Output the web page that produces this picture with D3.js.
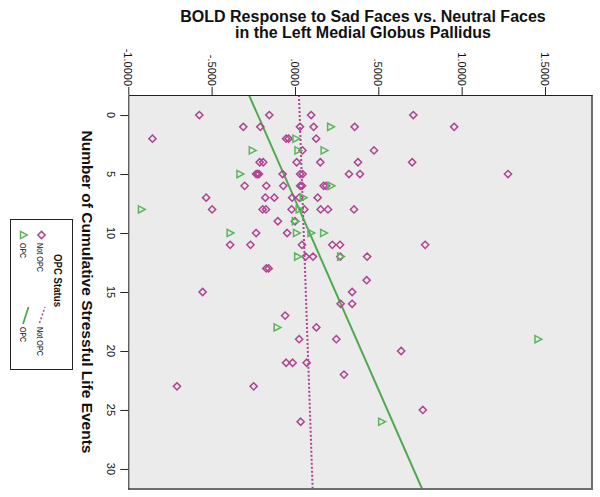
<!DOCTYPE html>
<html><head><meta charset="utf-8">
<script src="https://cdn.jsdelivr.net/npm/d3@7"></script>
<style>body{margin:0;background:#fff}text{font-family:"Liberation Sans",Arial,sans-serif}</style>
</head><body>
<svg id="c" width="600" height="497"></svg>
<script>
// Data: [stressful life events, BOLD response]
const notOPC = [
 [0,-0.574],[0,-0.154],[0,0.097],[0,0.710],
 [1,-0.310],[1,-0.208],[1,0.030],[1,0.112],[1,0.358],[1,0.955],
 [2,-0.855],[2,-0.053],[2,-0.038],[2,0.127],
 [3,0.045],[3,0.474],
 [4,-0.212],[4,-0.191],[4,0.010],[4,0.152],[4,0.378],[4,0.703],
 [5,-0.233],[5,-0.216],[5,-0.225],[5,-0.074],[5,0.031],[5,0.046],[5,0.324],[5,0.390],[5,1.278],
 [6,-0.302],[6,-0.172],[6,-0.070],[6,0.031],[6,0.042],[6,0.172],[6,0.187],
 [7,-0.533],[7,-0.178],[7,-0.124],[7,-0.017],[7,0.026],[7,0.136],
 [8,-0.497],[8,-0.194],[8,-0.174],[8,-0.020],[8,0.056],[8,0.154],[8,0.198],[8,0.354],
 [9,-0.103],[9,0.000],
 [10,-0.233],[10,-0.047],
 [11,-0.389],[11,-0.267],[11,0.042],[11,0.224],[11,0.270],[11,0.781],
 [12,0.064],[12,0.108],[12,0.272],[12,0.433],
 [13,-0.172],[13,-0.158],
 [14,0.430],
 [15,-0.554],[15,0.343],
 [16,0.274],[16,0.343],
 [17,-0.059],
 [18,0.128],
 [19,0.025],[19,0.248],
 [20,0.637],
 [21,-0.053],[21,-0.014],[21,0.070],
 [22,0.294],
 [23,-0.708],[23,-0.248],
 [25,0.767],
 [26,0.034]
];
const opc = [
 [1,0.214],[2,0.006],[3,-0.256],[3,0.018],[3,0.175],[5,-0.330],[6,0.217],[7,0.050],
 [8,-0.921],[8,0.025],[9,0.002],[10,-0.389],[10,0.009],[10,0.096],[10,0.172],
 [12,0.016],[12,0.274],[18,-0.107],[19,1.458],[26,0.520]
];
// Linear fit lines: BOLD = intercept + slope * events
const fitNotOPC = [0.028, 0.00246];
const fitOPC = [-0.223, 0.0311];
const boldTicks = [-1, -0.5, 0, 0.5, 1, 1.5];
const boldTickLabels = ["-1.0000", "-.5000", ".0000", ".5000", "1.0000", "1.5000"];
const eventTicks = [0, 5, 10, 15, 20, 25, 30];
const titleLines = ["BOLD Response to Sad Faces vs. Neutral Faces", "in the Left Medial Globus Pallidus"];

const svg = d3.select("#c");
const L = 128.3, R = 592, T = 95, B = 489;
const x = d3.scaleLinear().domain([-1, 1.782]).range([L, R]);
const y = d3.scaleLinear().domain([-1.7, 31.7]).range([T, B]);

const magenta = "#ad4590", green = "#5cb45c", lineGreen = "#4fa94f";

// title
svg.selectAll("text.title").data(titleLines).join("text")
  .attr("x", 363).attr("y", (d, i) => i ? 37.5 : 21.5)
  .attr("text-anchor", "middle").attr("font-size", 16).attr("font-weight", "bold").attr("fill", "#111")
  .text(d => d);

// plot background
svg.append("rect").attr("x", L).attr("y", T).attr("width", R - L).attr("height", B - T).attr("fill", "#ebebeb");

svg.append("defs").append("clipPath").attr("id", "clip")
  .append("rect").attr("x", L).attr("y", T).attr("width", R - L).attr("height", B - T);

// fit lines
const g = svg.append("g").attr("clip-path", "url(#clip)");
const ed = y.domain();
g.append("line")
  .attr("x1", x(fitNotOPC[0] + fitNotOPC[1] * ed[0])).attr("y1", y(ed[0]))
  .attr("x2", x(fitNotOPC[0] + fitNotOPC[1] * ed[1])).attr("y2", y(ed[1]))
  .attr("stroke", magenta).attr("stroke-width", 2).attr("stroke-dasharray", "2,2");
g.append("line")
  .attr("x1", x(fitOPC[0] + fitOPC[1] * ed[0])).attr("y1", y(ed[0]))
  .attr("x2", x(fitOPC[0] + fitOPC[1] * ed[1])).attr("y2", y(ed[1]))
  .attr("stroke", lineGreen).attr("stroke-width", 2);

// markers
const diamond = "M0,-3.6L3.6,0L0,3.6L-3.6,0Z";
const tri = "M-3,-3.6L3.8,0L-3,3.6Z";
g.selectAll("path.d").data(notOPC).join("path")
  .attr("d", diamond).attr("transform", d => `translate(${x(d[1])},${y(d[0])})`)
  .attr("fill", "none").attr("stroke", magenta).attr("stroke-width", 1.5);
g.selectAll("path.t").data(opc).join("path")
  .attr("d", tri).attr("transform", d => `translate(${x(d[1])},${y(d[0])})`)
  .attr("fill", "none").attr("stroke", green).attr("stroke-width", 1.5);

// borders right/bottom
svg.append("path").attr("d", `M${R},${T}V${B}H${L}`).attr("fill", "none").attr("stroke", "#6e6e6e").attr("stroke-width", 2);

// top axis
const ax = svg.append("g").attr("transform", `translate(0,${T})`)
  .call(d3.axisTop(x).tickValues(boldTicks).tickSize(8).tickSizeOuter(0).tickFormat(""));
ax.select(".domain").attr("stroke", "#222");
ax.selectAll(".tick line").attr("stroke", "#222");
svg.selectAll("text.xl").data(boldTicks).join("text")
  .attr("transform", (d) => `translate(${x(d)},${T - 9}) rotate(90)`)
  .attr("text-anchor", "end").attr("dy", "0.35em").attr("font-size", 11).attr("fill", "#111")
  .text((d, i) => boldTickLabels[i]);

// left axis
const ay = svg.append("g").attr("transform", `translate(${L},0)`)
  .call(d3.axisLeft(y).tickValues(eventTicks).tickSize(8).tickSizeOuter(0).tickFormat(""));
ay.select(".domain").attr("stroke", "#222");
ay.selectAll(".tick line").attr("stroke", "#222");
svg.selectAll("text.yl").data(eventTicks).join("text")
  .attr("transform", d => `translate(${L - 17},${y(d)}) rotate(90)`)
  .attr("text-anchor", "middle").attr("dy", "0.35em").attr("font-size", 11).attr("fill", "#111")
  .text(d => d);

// y title
svg.append("text").attr("transform", `translate(87.5,${(T + B) / 2}) rotate(90)`)
  .attr("text-anchor", "middle").attr("dy", "0.35em").attr("font-size", 15.5).attr("font-weight", "bold").attr("fill", "#111")
  .text("Number of Cumulative Stressful Life Events");

// legend
const lg = svg.append("g");
lg.append("rect").attr("x", 10.5).attr("y", 219.5).attr("width", 62).attr("height", 150)
  .attr("fill", "#fff").attr("stroke", "#222");
lg.append("text").attr("transform", "translate(58,254) rotate(90)").attr("dy", "0.35em")
  .attr("font-size", 11.5).attr("font-weight", "bold").attr("fill", "#111")
  .attr("textLength", 53).attr("lengthAdjust", "spacingAndGlyphs").text("OPC Status");
lg.append("path").attr("d", diamond).attr("transform", "translate(41.5,235)").attr("fill", "none").attr("stroke", magenta).attr("stroke-width", 1.5);
lg.append("path").attr("d", tri).attr("transform", "translate(23.5,235)").attr("fill", "none").attr("stroke", green).attr("stroke-width", 1.5);
lg.append("line").attr("x1", 39.5).attr("y1", 323).attr("x2", 45).attr("y2", 307).attr("stroke", magenta).attr("stroke-width", 1.5).attr("stroke-dasharray", "2,2");
lg.append("line").attr("x1", 23).attr("y1", 324).attr("x2", 28.5).attr("y2", 307).attr("stroke", lineGreen).attr("stroke-width", 1.8);
const items = [[40, 243, "Not OPC", 29], [40, 327, "Not OPC", 29], [23, 243, "OPC", 15], [23, 327, "OPC", 15]];
lg.selectAll("text.it").data(items).join("text")
  .attr("transform", d => `translate(${d[0]},${d[1]}) rotate(90)`).attr("dy", "0.35em")
  .attr("font-size", 9.5).attr("fill", "#111")
  .attr("textLength", d => d[3]).attr("lengthAdjust", "spacingAndGlyphs").text(d => d[2]);
</script>
</body></html>
